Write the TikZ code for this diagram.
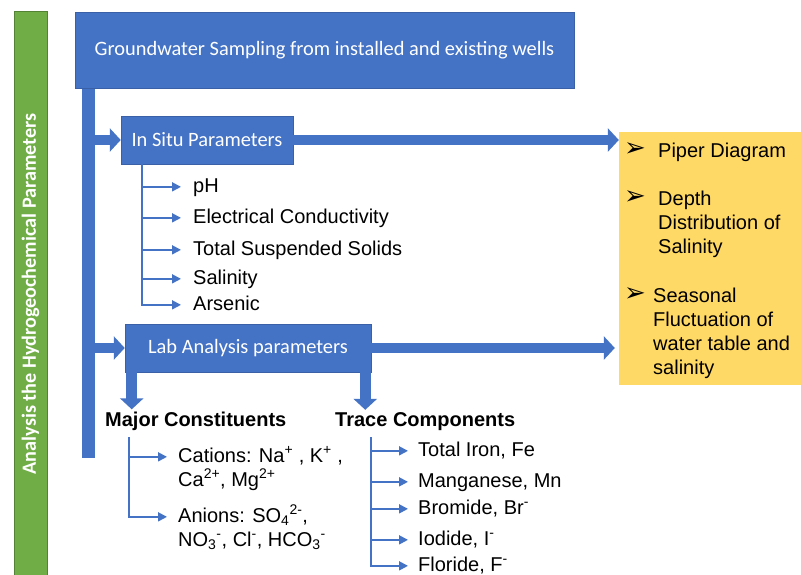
\documentclass[tikz,border=0pt]{standalone}
\usepackage{fontspec}
\setmainfont{Liberation Sans}
\newfontfamily\calibri{Carlito}
\newfontfamily\djv{DejaVu Sans}
\usetikzlibrary{arrows.meta}
\definecolor{myblue}{HTML}{4472C4}
\definecolor{mygreen}{HTML}{70AD47}
\definecolor{darkgreen}{HTML}{548235}
\definecolor{myyellow}{HTML}{FFD966}
\begin{document}
\begin{tikzpicture}[x=1pt,y=-1pt,
 bluebox/.style={draw=myblue!85!black, line width=0.5pt, fill=myblue, text=white, font=\calibri\fontsize{20.4}{24}\selectfont, inner sep=0pt},
 blockarrow/.style={draw=myblue, line width=10pt, -{Triangle[length=11pt,width=23pt]}},
 thinarrow/.style={draw=myblue, line width=1.8pt, -{Triangle[length=9pt,width=9pt]}},
 item/.style={font=\fontsize{20}{24}\selectfont, inner sep=0pt, text height=14.5pt, text depth=4.2pt, anchor=base west},
 heading/.style={font=\bfseries\fontsize{20}{24}\selectfont, inner sep=2pt, anchor=base west},
 bullet/.style={font=\djv\bfseries\fontsize{26}{28}\selectfont, inner sep=0pt},
 ytext/.style={font=\fontsize{20}{24}\selectfont, inner sep=0pt, anchor=base west}
]
\useasboundingbox[fill=white] (0,0) rectangle (801,574);

% side bar
\node[fill=mygreen, draw=darkgreen, line width=0.8pt, rotate=90, minimum width=566pt, minimum height=33pt, inner sep=0pt, text=white, font=\calibri\bfseries\fontsize{20.2}{24}\selectfont] (side) at (30.5,294) {Analysis the Hydrogeochemical Parameters};

% main trunk
\node[fill=myblue, minimum width=13pt, minimum height=370pt, inner sep=0pt] (vbar) at (88.5,273) {};
\node[bluebox, minimum width=499pt, minimum height=76pt] (top) at (324.5,50) {Groundwater Sampling from installed and existing wells};

\node[bluebox, minimum width=172pt, minimum height=48pt] (insitu) at (207,140) {In Situ Parameters};
\node[bluebox, minimum width=246pt, minimum height=48pt] (lab) at (248,348) {Lab Analysis parameters};

% yellow outcome box
\node[fill=myyellow, minimum width=182pt, minimum height=253pt, inner sep=0pt] (yellow) at (710,258.5) {};
\node[bullet] (b1) at (635,150) {➢};
\node[bullet] (b2) at (635,198) {➢};
\node[bullet] (b3) at (635,295) {➢};
\node[ytext] (y1) at (658,157) {Piper Diagram};
\node[ytext] (y2a) at (658,205) {Depth};
\node[ytext] (y2b) at (658,229) {Distribution of};
\node[ytext] (y2c) at (658,253) {Salinity};
\node[ytext] (y3a) at (653,302) {Seasonal};
\node[ytext] (y3b) at (653,326) {Fluctuation of};
\node[ytext] (y3c) at (653,350) {water table and};
\node[ytext] (y3d) at (653,374) {salinity};

% block arrows
\draw[blockarrow] (vbar.east |- insitu.west) -- (insitu.west);
\draw[blockarrow] (insitu.east) -- (insitu.east -| yellow.west);
\draw[blockarrow] (vbar.east |- lab.west) -- (lab.west);
\draw[blockarrow, shorten >=4pt] (lab.east) -- (lab.east -| yellow.west);

% in situ items
\node[item] (ph) at (193,192) {pH};
\node[item] (ec) at (193,223) {Electrical Conductivity};
\node[item] (tss) at (193,255) {Total Suspended Solids};
\node[item] (sal) at (193,284) {Salinity};
\node[item] (ars) at (193,310) {Arsenic};
\foreach \n in {ph,ec,tss,sal,ars}
  \draw[thinarrow] ([xshift=21pt]insitu.south west) |- ([xshift=-12pt]\n.west);

% headings
\node[heading] (major) at (103,426) {Major Constituents};
\node[heading] (trace) at (333,426) {Trace Components};
\draw[blockarrow, line width=11pt] ([xshift=7pt]lab.south west) -- ([xshift=7pt]lab.south west |- major.north);
\draw[blockarrow, line width=11pt] ([xshift=-6pt]lab.south east) -- ([xshift=-6pt]lab.south east |- trace.north);

% major constituents
\node[item] (cat1) at (178,462) {Cations: Na\textsuperscript{+} , K\textsuperscript{+} ,};
\node[item] (cat2) at (178,486) {Ca\textsuperscript{2+}, Mg\textsuperscript{2+}};
\node[item] (an1) at (178,522) {Anions: SO\textsubscript{4}\textsuperscript{2-},};
\node[item] (an2) at (178,546) {NO\textsubscript{3}\textsuperscript{-}, Cl\textsuperscript{-}, HCO\textsubscript{3}\textsuperscript{-}};
\foreach \n in {cat1,an1}
  \draw[thinarrow] ([xshift=26pt,yshift=-5pt]major.south west) |- ([xshift=-11pt]\n.west);

% trace components
\node[item] (fe) at (418,456) {Total Iron, Fe};
\node[item] (mn) at (418,487) {Manganese, Mn};
\node[item] (br) at (418,514) {Bromide, Br\textsuperscript{-}};
\node[item] (io) at (418,545) {Iodide, I\textsuperscript{-}};
\node[item] (fl) at (418,571) {Floride, F\textsuperscript{-}};
\foreach \n in {fe,mn,br,io,fl}
  \draw[thinarrow] ([xshift=38pt,yshift=-5pt]trace.south west) |- ([xshift=-10pt]\n.west);
\end{tikzpicture}
\end{document}
